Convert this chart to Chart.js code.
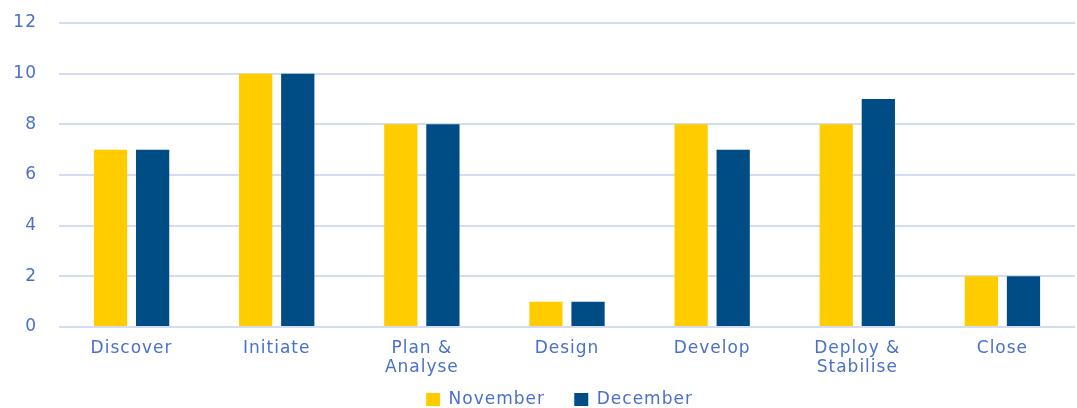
<!DOCTYPE html>
<html>
<head>
<meta charset="utf-8">
<script src="https://cdn.jsdelivr.net/npm/chart.js@4/dist/chart.umd.min.js"></script>
<style>
  html, body { margin: 0; padding: 0; background: #fff; }
  #wrap { width: 1077px; height: 408px; }
</style>
</head>
<body>
<div id="wrap"><canvas id="grafica"></canvas></div>
<script>
const categorias = ["Discover", "Initiate", ["Plan &", "Analyse"], "Design", "Develop", ["Deploy &", "Stabilise"], "Close"];
const noviembre = [7, 10, 8, 1, 8, 8, 2];
const diciembre = [7, 10, 8, 1, 7, 9, 2];
const ticksY = [0, 2, 4, 6, 8, 10, 12];

const colorTexto = "#4a6fcc";
const colorRejilla = "#d3dcf2";
const fuente = { family: "DejaVu Sans", size: 17, lineHeight: 1.12 };

// espaciado de letras, alto fijo de la leyenda y su desplazamiento
const ajustes = {
  id: "ajustes",
  beforeLayout(c) {
    c.ctx.letterSpacing = "1px";
    const lg = c.legend;
    if (lg && !lg._fijo) {
      const fit = lg.fit.bind(lg);
      lg.fit = function () { fit(); this.height = 27; };
      lg._fijo = true;
    }
  },
  afterLayout(c) {
    c.legend.left += 22;
    c.legend.right += 22;
  },
  beforeDraw(c) { c.ctx.letterSpacing = "1px"; }
};

new Chart(document.getElementById("grafica"), {
  type: "bar",
  data: {
    labels: categorias,
    datasets: [
      { label: "November", data: noviembre, backgroundColor: "#ffcc00", categoryPercentage: 0.58, barPercentage: 0.79 },
      { label: "December", data: diciembre, backgroundColor: "#004c84", categoryPercentage: 0.58, barPercentage: 0.79 }
    ]
  },
  options: {
    responsive: true,
    maintainAspectRatio: false,
    animation: false,
    layout: { padding: { left: 0, right: 2, top: 0, bottom: 0 } },
    scales: {
      x: {
        afterFit: s => { s.height = 54; },
        grid: { display: false },
        border: { display: false },
        ticks: { color: colorTexto, font: fuente, padding: 4, maxRotation: 0, autoSkip: false }
      },
      y: {
        min: 0, max: 12,
        afterFit: s => { s.width = 59; s.paddingTop = 23; s.paddingBottom = 0; },
        afterBuildTicks: ax => { ax.ticks = ticksY.map(v => ({ value: v })); },
        grid: { color: colorRejilla, lineWidth: 2, drawTicks: false },
        border: { display: false },
        ticks: { color: colorTexto, font: fuente, padding: 22 }
      }
    },
    plugins: {
      legend: {
        position: "bottom",
        labels: {
          color: colorTexto, font: fuente, boxWidth: 14, boxHeight: 13, padding: 10,
          generateLabels: c => Chart.defaults.plugins.legend.labels.generateLabels(c).map((l, i) => ({ ...l, text: i === 0 ? l.text + "   " : l.text }))
        }
      },
      tooltip: { enabled: false }
    }
  },
  plugins: [ajustes]
});
</script>
</body>
</html>
